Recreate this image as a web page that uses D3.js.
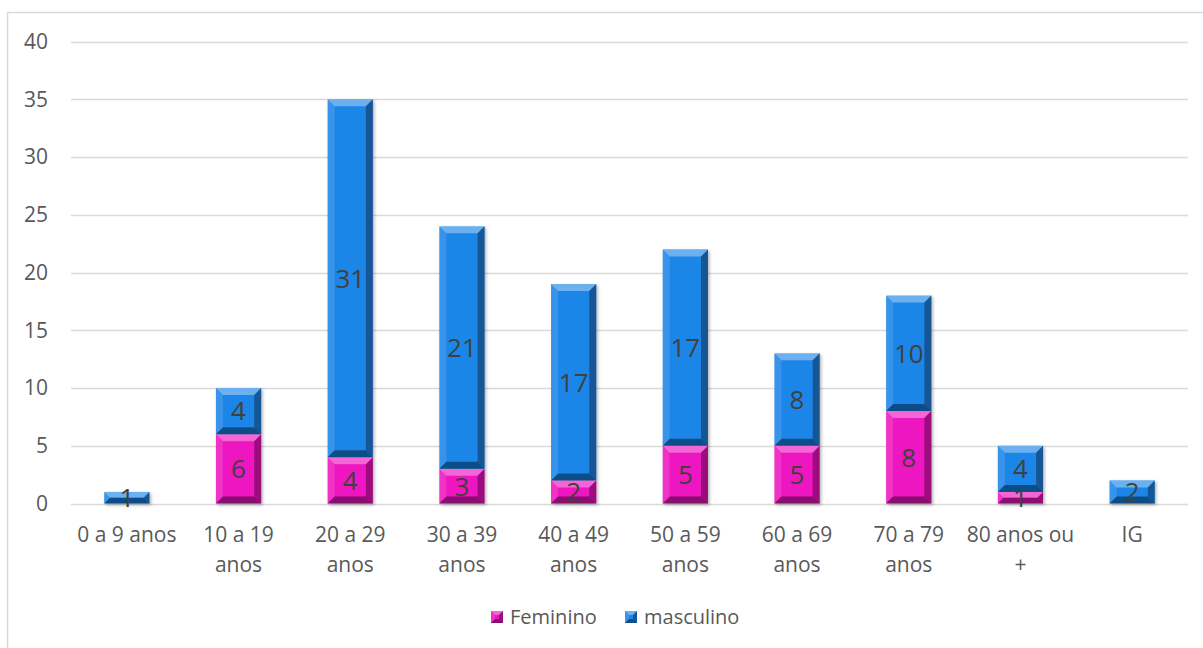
<!DOCTYPE html>
<html><head><meta charset="utf-8">
<script src="https://cdn.jsdelivr.net/npm/d3@7"></script>
<style>body{margin:0;background:#fff}svg{display:block;font-family:"Open Sans",sans-serif}</style>
</head><body><svg id="c" width="1203" height="648"></svg>
<script>
const categories = ["0 a 9 anos","10 a 19 anos","20 a 29 anos","30 a 39 anos","40 a 49 anos","50 a 59 anos","60 a 69 anos","70 a 79 anos","80 anos ou +","IG"];
const categoryLines = [["0 a 9 anos"],["10 a 19","anos"],["20 a 29","anos"],["30 a 39","anos"],["40 a 49","anos"],["50 a 59","anos"],["60 a 69","anos"],["70 a 79","anos"],["80 anos ou","+"],["IG"]];
const feminino = [0,6,4,3,2,5,5,8,1,0];
const masculino = [1,4,31,21,17,17,8,10,4,2];
const seriesNames = ["Feminino","masculino"];
const seriesColors = ["#EE14C0","#1E86E8"];
const yTicks = [0,5,10,15,20,25,30,35,40];

const svg = d3.select("#c");
const defs = svg.append("defs");
const f = defs.append("filter").attr("id","sh").attr("x","-20%").attr("y","-20%").attr("width","150%").attr("height","150%");
f.append("feDropShadow").attr("dx",1.5).attr("dy",1.5).attr("stdDeviation",1.5).attr("flood-color","#000").attr("flood-opacity",0.3);

svg.append("rect").attr("x",7.5).attr("y",12.5).attr("width",1300).attr("height",700)
  .attr("fill","none").attr("stroke","#d9d9d9").attr("stroke-width",1.5);

const L=71, R=1188, T=41.5, B=503.5;
const x = d3.scaleBand().domain(categories).range([L,R]).paddingInner(0.595).paddingOuter(0.2975);
const y = d3.scaleLinear().domain([0,40]).range([B,T]);

svg.append("g").selectAll("line").data(yTicks).join("line")
  .attr("x1",L).attr("x2",R).attr("y1",d=>Math.round(y(d))+0.5).attr("y2",d=>Math.round(y(d))+0.5)
  .attr("stroke","#d9d9d9").attr("stroke-width",1.5);

svg.append("g").selectAll("text").data(yTicks).join("text")
  .attr("x",48).attr("y",d=>y(d)).attr("dy","0.35em").attr("text-anchor","end")
  .attr("font-size",21).attr("fill","#595959").text(d=>d);

const data = categories.map((c,i)=>({cat:c, Feminino:feminino[i], masculino:masculino[i]}));
const stack = d3.stack().keys(seriesNames)(data);

function bevel(g, xx, yy, w, h, color, bmax){
  const b = Math.min(bmax, w/2, h/2);
  g.append("rect").attr("x",xx).attr("y",yy).attr("width",w).attr("height",h).attr("fill",color);
  const polys = [
    [[[xx,yy],[xx+w,yy],[xx+w-b,yy+b],[xx+b,yy+b]],"#fff",0.35],
    [[[xx,yy],[xx+b,yy+b],[xx+b,yy+h-b],[xx,yy+h]],"#fff",0.12],
    [[[xx+w,yy],[xx+w,yy+h],[xx+w-b,yy+h-b],[xx+w-b,yy+b]],"#000",0.35],
    [[[xx,yy+h],[xx+b,yy+h-b],[xx+w-b,yy+h-b],[xx+w,yy+h]],"#000",0.42]
  ];
  polys.forEach(p=>g.append("polygon").attr("points",p[0].map(q=>q.join(",")).join(" ")).attr("fill",p[1]).attr("fill-opacity",p[2]));
}

const barsG = svg.append("g").attr("filter","url(#sh)");
stack.forEach((s,si)=>{
  s.forEach((d,i)=>{
    const v = d[1]-d[0];
    if(v<=0) return;
    const g = barsG.append("g");
    bevel(g, x(categories[i]), y(d[1]), x.bandwidth(), y(d[0])-y(d[1]), seriesColors[si], 7);
  });
});
const labG = svg.append("g");
stack.forEach((s,si)=>{
  s.forEach((d,i)=>{
    const v = d[1]-d[0];
    if(v<=0) return;
    labG.append("text").attr("x",x(categories[i])+x.bandwidth()/2).attr("y",y((d[0]+d[1])/2))
      .attr("dy","0.36em").attr("text-anchor","middle").attr("font-size",26).attr("fill","#404040").text(v);
  });
});

const xl = svg.append("g");
categories.forEach((c,i)=>{
  const t = xl.append("text").attr("text-anchor","middle").attr("font-size",21).attr("fill","#595959");
  categoryLines[i].forEach((ln,k)=>{
    t.append("tspan").attr("x",x(c)+x.bandwidth()/2).attr("y",542+k*30).text(ln);
  });
});

const leg = svg.append("g");
const legX = [491,625];
seriesNames.forEach((n,i)=>{
  const g = leg.append("g");
  bevel(g, legX[i], 611, 12, 12, seriesColors[i], 4);
  leg.append("text").attr("x",legX[i]+19).attr("y",617).attr("dy","0.35em").attr("font-size",20).attr("fill","#595959").text(n);
});
</script></body></html>
